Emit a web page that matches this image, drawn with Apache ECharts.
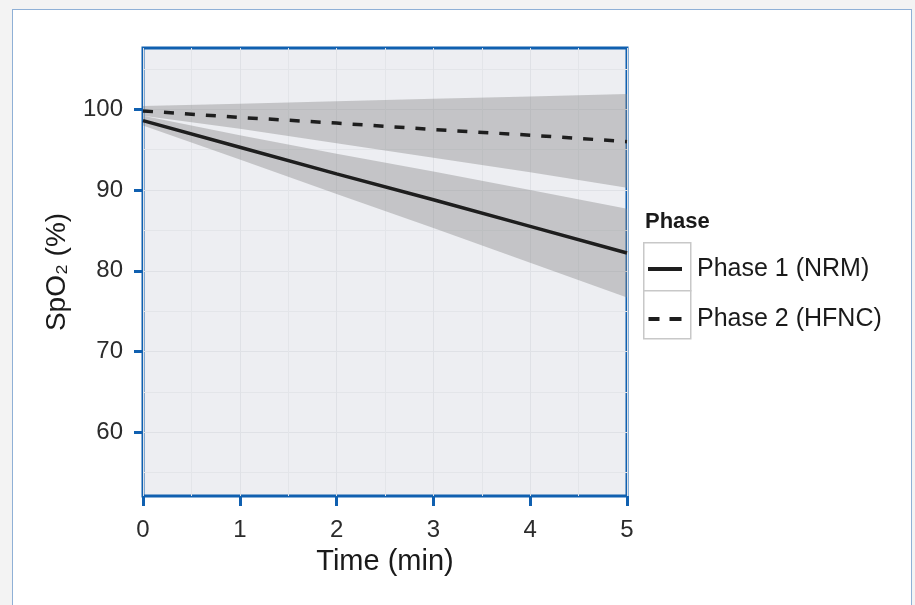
<!DOCTYPE html>
<html><head><meta charset="utf-8">
<script src="https://cdn.jsdelivr.net/npm/echarts@6/dist/echarts.min.js"></script>
<style>
html,body{margin:0;padding:0;background:#f3f3f3;}
#frame{position:absolute;left:12px;top:9px;width:900px;height:610px;border:1px solid #8fb0d6;background:#fff;box-sizing:border-box;}
#c{position:absolute;left:0;top:0;width:915px;height:605px;}
</style>
</head><body><div id="frame"></div><div id="c"></div>
<script>
const time = [0, 1, 2, 3, 4, 5];
const phase1Mean  = [98.6, 95.3, 92.0, 88.8, 85.5, 82.2];
const phase1Upper = [99.2, 96.8, 94.5, 92.3, 90.0, 87.7];
const phase1Lower = [98.0, 93.8, 89.5, 85.3, 81.0, 76.7];
const phase2Mean  = [99.8, 99.0, 98.3, 97.5, 96.8, 96.0];
const phase2Upper = [100.4, 100.7, 101.0, 101.3, 101.6, 101.9];
const phase2Lower = [99.2, 97.6, 95.8, 94.0, 92.2, 90.3];
const yTicks = [60, 70, 80, 90, 100];
const yMinorGrid = [55, 65, 75, 85, 95, 105];
const seriesNames = ['Phase 1 (NRM)', 'Phase 2 (HFNC)'];

const FONT = "'Liberation Sans', Arial, Helvetica, sans-serif";
const BLUE = '#1060b0';
const BAND = 'rgba(130,130,130,0.38)';
const LINE = '#1e1e1e';

const pairs = (ys) => time.map((t, i) => [t, ys[i]]);

function bandSeries(upper, lower) {
  return {
    type: 'custom', silent: true, z: 2,
    data: [[time[0], upper[0]]],
    renderItem: function (params, api) {
      const pts = [];
      for (let i = 0; i < time.length; i++) pts.push(api.coord([time[i], upper[i]]));
      for (let i = time.length - 1; i >= 0; i--) pts.push(api.coord([time[i], lower[i]]));
      return { type: 'polygon', shape: { points: pts }, style: { fill: BAND } };
    }
  };
}

const chart = echarts.init(document.getElementById('c'));
chart.setOption({
  animation: false,
  textStyle: { fontFamily: FONT },
  title: {
    text: 'Phase', left: 645, top: 211, padding: 0,
    textStyle: { fontFamily: FONT, fontSize: 22, fontWeight: 'bold', color: '#1a1a1a' }
  },
  graphic: [
    { type: 'rect', left: 643, top: 242, shape: { width: 47, height: 48 }, style: { fill: '#fff', stroke: '#c8c8c8', lineWidth: 1.5 }, z: 1 },
    { type: 'rect', left: 643, top: 290, shape: { width: 47, height: 48 }, style: { fill: '#fff', stroke: '#c8c8c8', lineWidth: 1.5 }, z: 1 }
  ],
  legend: {
    data: [
      { name: seriesNames[0], icon: 'path://M0,0H34V4H0Z' },
      { name: seriesNames[1], icon: 'path://M0,0H11V4H0Z M21,0H33V4H21Z' }
    ],
    orient: 'vertical', left: 648, top: 256,
    itemWidth: 34, itemHeight: 4, itemGap: 24, padding: 0, z: 5,
    itemStyle: { color: LINE, borderWidth: 0 },
    textStyle: { fontFamily: FONT, fontSize: 25, color: '#1a1a1a', lineHeight: 24, padding: [2, 0, 0, 10] }
  },
  grid: {
    left: 143, right: 288, top: 48, bottom: 109,
    show: true, backgroundColor: '#edeef2', borderColor: BLUE, borderWidth: 3
  },
  xAxis: {
    type: 'value', min: 0, max: 5, interval: 1,
    name: 'Time (min)', nameLocation: 'middle', nameGap: 51,
    nameTextStyle: { fontFamily: FONT, fontSize: 29, color: '#1a1a1a' },
    axisLine: { show: false },
    axisTick: { show: true, length: 10, lineStyle: { color: BLUE, width: 3 } },
    axisLabel: { fontFamily: FONT, fontSize: 24, color: '#2b2b2b', margin: 22 },
    splitLine: { show: true, lineStyle: { color: '#dfe1e6', width: 1 } },
    minorTick: { show: false, splitNumber: 2 },
    minorSplitLine: { show: true, lineStyle: { color: '#e3e5e9', width: 1 } }
  },
  yAxis: [{
    type: 'value', min: 52.1, max: 107.6,
    name: 'SpO₂ (%)', nameLocation: 'middle', nameGap: 72,
    nameTextStyle: { fontFamily: FONT, fontSize: 28, color: '#1a1a1a' },
    axisLine: { show: false },
    axisTick: { show: true, customValues: yTicks, length: 9, lineStyle: { color: BLUE, width: 3 } },
    axisLabel: { customValues: yTicks, fontFamily: FONT, fontSize: 24, color: '#2b2b2b', margin: 20 },
    splitLine: { show: true, lineStyle: { color: '#dfe1e6', width: 1 } }
  }, {
    type: 'value', min: 52.1, max: 107.6, position: 'right',
    axisLine: { show: false },
    axisTick: { show: false, customValues: yMinorGrid },
    axisLabel: { show: false, customValues: yMinorGrid },
    splitLine: { show: true, lineStyle: { color: '#e3e5e9', width: 1 } }
  }],
  series: [
    bandSeries(phase1Upper, phase1Lower),
    bandSeries(phase2Upper, phase2Lower),
    { name: seriesNames[0], type: 'line', data: pairs(phase1Mean), symbol: 'none', lineStyle: { color: LINE, width: 3.5, type: 'solid' }, itemStyle: { color: LINE }, z: 3 },
    { name: seriesNames[1], type: 'line', data: pairs(phase2Mean), symbol: 'none', lineStyle: { color: LINE, width: 3.5, type: [10, 11] }, itemStyle: { color: LINE }, z: 3 }
  ]
});
</script>
</body></html>
